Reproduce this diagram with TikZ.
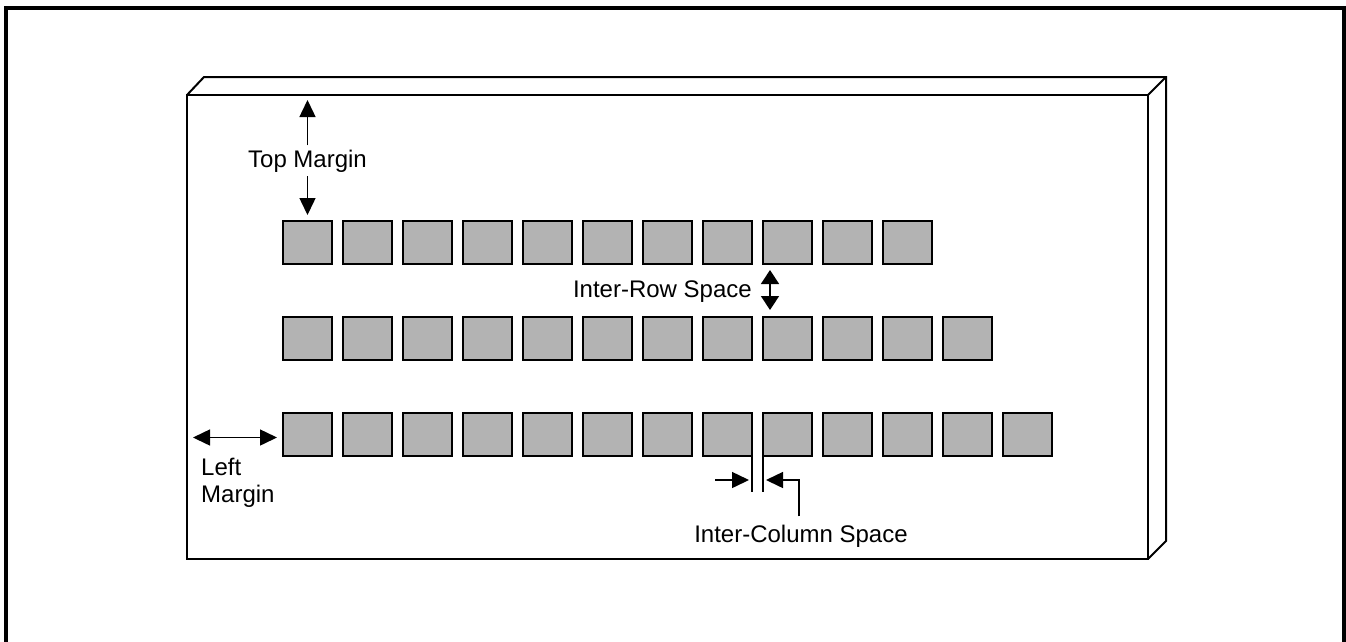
\documentclass[tikz,border=0pt]{standalone}
\usepackage{fontspec}
\setmainfont{Liberation Sans}
\usetikzlibrary{arrows.meta}
\definecolor{cellgray}{RGB}{179,179,179}
\begin{document}
\begin{tikzpicture}[x=1pt,y=-1pt,
  cell/.style={draw, line width=2pt, fill=cellgray, minimum width=49pt, minimum height=43pt,
    inner sep=0pt, outer sep=0pt, anchor=north west},
  board/.style={line width=2pt, line join=miter},
  lbl/.style={font=\fontsize{24}{27}\selectfont, inner sep=0pt},
  dim/.style={line width=1.5pt, -{Triangle[length=17pt,width=16pt]}},
  ddim/.style={line width=1.5pt, {Triangle[length=17pt,width=16pt]}-{Triangle[length=17pt,width=16pt]}},
]
\useasboundingbox (0,0) rectangle (1346,641);

% outer frame (open at the bottom)
\coordinate (oBL) at (6,645);
\coordinate (oTL) at (6,8);
\coordinate (oTR) at (1344,8);
\coordinate (oBR) at (1344,645);
\draw[line width=3.2pt] (oBL) -- (oTL) -- (oTR) -- (oBR);

% board
\coordinate (fTL) at (187,95);
\coordinate (fTR) at (1148,95);
\coordinate (fBR) at (1148,559);
\coordinate (fBL) at (187,559);
\coordinate (bTL) at (204,77);
\coordinate (bTR) at (1166,77);
\coordinate (bBR) at (1166,541);
\draw[board] (fTL) -- (fTR) -- (fBR) -- (fBL) -- cycle;
\draw[board] (fTL) -- (bTL) -- (bTR) -- (bBR) -- (fBR);
\draw[board] (fTR) -- (bTR);

% cells
\foreach \i in {1,...,11} \node[cell] (r1c\i) at ({283+60*(\i-1)},221) {};
\foreach \i in {1,...,12} \node[cell] (r2c\i) at ({283+60*(\i-1)},317) {};
\foreach \i in {1,...,13} \node[cell] (r3c\i) at ({283+60*(\i-1)},413) {};

% top margin
\node[lbl, anchor=base, fill=white, inner xsep=0pt, inner ysep=4pt] (tm) at (r1c1.north |- 0,167) {Top Margin};
\coordinate (tmTop) at (tm.north |- fTL);
\draw[dim] (tm.north) -- ([yshift=-5pt]tmTop);
\draw[dim] (tm.south) -- ([yshift=6pt]r1c1.north);

% inter-row space
\node[lbl, anchor=base east] (irs) at (752,297) {Inter-Row Space};
\draw[line width=1.5pt, {Triangle[length=14pt,width=18pt]}-{Triangle[length=14pt,width=18pt]}]
  ([xshift=7pt,yshift=-6pt]r1c9.south west) -- ([xshift=7pt,yshift=7pt]r2c9.north west);

% left margin
\coordinate (lmL) at (193,437.5);
\draw[ddim] (lmL) -- ([xshift=-6pt,yshift=-3pt]r3c1.west);
\node[lbl, anchor=north west, align=left] (lm) at (201,458) {Left\\Margin};

% inter-column space
\draw[line width=2pt] (r3c8.south east) -- ++(0,36);
\draw[line width=2pt] (r3c9.south west) -- ++(0,36);
\coordinate (icL) at (715,480);
\draw[dim] (icL) -- ([xshift=-3pt,yshift=-24pt]r3c8.south east);
\node[lbl, anchor=base, inner sep=2pt] (ics) at (801,542) {Inter-Column Space};
\draw[line width=1.5pt, -{Triangle[length=17pt,width=16pt]}]
  ([xshift=-2pt,yshift=6pt]ics.north) |- ([xshift=3pt,yshift=-24pt]r3c9.south west);
\end{tikzpicture}
\end{document}
